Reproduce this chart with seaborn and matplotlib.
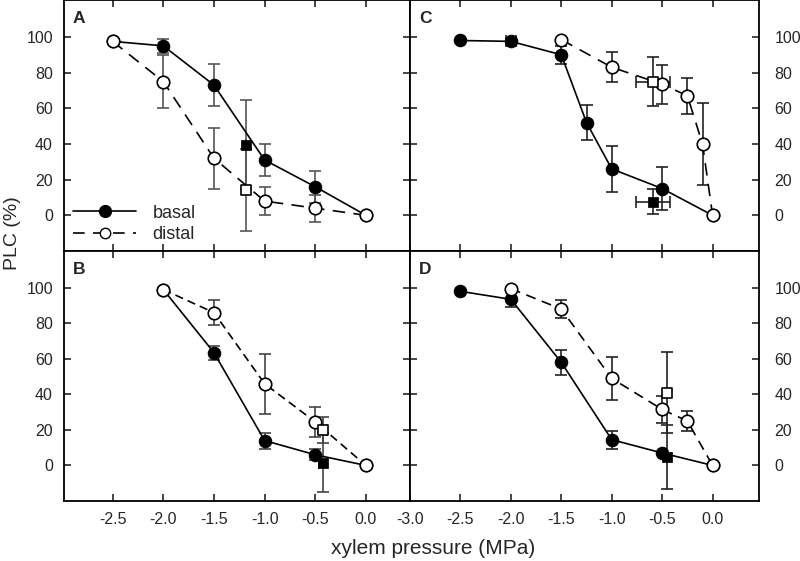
import matplotlib
matplotlib.use('Agg')
import matplotlib.pyplot as plt
from matplotlib.lines import Line2D
import seaborn as sns
import numpy as np
import pandas as pd

# 데이터
# panel A
a_basal_x = [-2.5, -2.0, -1.5, -1.0, -0.5, 0.0]
a_basal_y = [97.5, 95, 73, 31, 16, 0]
a_basal_err = [0, 4, 12, 9, 9, 0]
a_distal_x = [-2.5, -2.0, -1.5, -1.0, -0.5, 0.0]
a_distal_y = [97.5, 75, 32, 8, 4, 0]
a_distal_err = [0, 15, 17, 8, 7.5, 0]
a_sq_x = [-1.18]
a_sq_basal_y = [39.5]
a_sq_basal_err = [25]
a_sq_distal_y = [14]
a_sq_distal_err = [23]
a_sq_xerr = [0]

# panel B
b_basal_x = [-2.0, -1.5, -1.0, -0.5, 0.0]
b_basal_y = [99, 63.5, 14, 6, 0]
b_basal_err = [0, 4, 4.5, 3, 0]
b_distal_x = [-2.0, -1.5, -1.0, -0.5, 0.0]
b_distal_y = [99, 86, 46, 24.5, 0]
b_distal_err = [0, 7, 17, 8.5, 0]
b_sq_x = [-0.42]
b_sq_basal_y = [1.5]
b_sq_basal_err = [16.5]
b_sq_distal_y = [20]
b_sq_distal_err = [7.5]
b_sq_xerr = [0.04]

# panel C
c_basal_x = [-2.5, -2.0, -1.5, -1.25, -1.0, -0.5, 0.0]
c_basal_y = [98, 97.5, 90, 52, 26, 15, 0]
c_basal_err = [0, 1.5, 5, 10, 13, 12, 0]
c_basal_xerr = [0, 0.05, 0, 0, 0, 0, 0]
c_distal_x = [-1.5, -1.0, -0.5, -0.25, -0.1, 0.0]
c_distal_y = [98.5, 83, 73.5, 67, 40, 0]
c_distal_err = [0, 8.5, 11, 10, 23, 0]
c_sq_x = [-0.59]
c_sq_basal_y = [7.5]
c_sq_basal_err = [7]
c_sq_distal_y = [75]
c_sq_distal_err = [13.5]
c_sq_xerr = [0.165]

# panel D
d_basal_x = [-2.5, -2.0, -1.5, -1.0, -0.5, 0.0]
d_basal_y = [98, 93.5, 58, 14.5, 7, 0]
d_basal_err = [0, 4.5, 7, 5, 0, 0]
d_distal_x = [-2.0, -1.5, -1.0, -0.5, -0.25, 0.0]
d_distal_y = [99.5, 88, 49, 31.5, 25, 0]
d_distal_err = [0, 5, 12, 7.5, 5.5, 0]
d_sq_x = [-0.45]
d_sq_basal_y = [4.7]
d_sq_basal_err = [18]
d_sq_distal_y = [41]
d_sq_distal_err = [23]
d_sq_xerr = [0]

sns.set_style('ticks')
plt.rcParams['font.family'] = ['Liberation Sans', 'DejaVu Sans']

fig = plt.figure(figsize=(8, 5.61), dpi=100)
ax_a = fig.add_axes([0.08, 0.5526, 0.4325, 0.4474])
ax_b = fig.add_axes([0.08, 0.107, 0.4325, 0.4456])
ax_c = fig.add_axes([0.5125, 0.5526, 0.43625, 0.4474])
ax_d = fig.add_axes([0.5125, 0.107, 0.43625, 0.4456])


def draw_panel(ax, bx, by, be, dx, dy, de, sqx, sqby, sqbe, sqdy, sqde, sqxe,
               dash, bxe=None, ecolor='#222222'):
    # 오차 막대
    ax.errorbar(bx, by, yerr=be, xerr=bxe, fmt='none', ecolor=ecolor,
                elinewidth=1.2, capsize=4, capthick=1.2, zorder=2)
    ax.errorbar(dx, dy, yerr=de, fmt='none', ecolor=ecolor,
                elinewidth=1.2, capsize=4, capthick=1.2, zorder=2)
    ax.errorbar(sqx, sqby, yerr=sqbe, xerr=sqxe, fmt='none', ecolor=ecolor,
                elinewidth=1.2, capsize=4, capthick=1.2, zorder=2)
    ax.errorbar(sqx, sqdy, yerr=sqde, xerr=sqxe, fmt='none', ecolor=ecolor,
                elinewidth=1.2, capsize=4, capthick=1.2, zorder=2)
    # basal: 실선 + 채운 원
    sns.lineplot(x=bx, y=by, ax=ax, color='black', linewidth=1.2,
                 marker='o', markersize=9, markerfacecolor='black',
                 markeredgecolor='black', zorder=3)
    # distal: 점선 + 빈 원
    sns.lineplot(x=dx, y=dy, ax=ax, color='black', linewidth=1.2,
                 linestyle=(0, dash), marker='o', markersize=9,
                 markerfacecolor='white', markeredgecolor='black',
                 markeredgewidth=1.2, zorder=4)
    # 사각형 점
    sns.scatterplot(x=sqx, y=sqby, ax=ax, marker='s', s=42, color='black',
                    edgecolor='black', zorder=5)
    sns.scatterplot(x=sqx, y=sqdy, ax=ax, marker='s', s=42, color='white',
                    edgecolor='black', linewidth=1.2, zorder=5)


draw_panel(ax_a, a_basal_x, a_basal_y, a_basal_err, a_distal_x, a_distal_y,
           a_distal_err, a_sq_x, a_sq_basal_y, a_sq_basal_err, a_sq_distal_y,
           a_sq_distal_err, a_sq_xerr, (7.5, 5), ecolor='#555555')
draw_panel(ax_b, b_basal_x, b_basal_y, b_basal_err, b_distal_x, b_distal_y,
           b_distal_err, b_sq_x, b_sq_basal_y, b_sq_basal_err, b_sq_distal_y,
           b_sq_distal_err, b_sq_xerr, (5, 3), ecolor='#444444')
draw_panel(ax_c, c_basal_x, c_basal_y, c_basal_err, c_distal_x, c_distal_y,
           c_distal_err, c_sq_x, c_sq_basal_y, c_sq_basal_err, c_sq_distal_y,
           c_sq_distal_err, c_sq_xerr, (7.5, 5), bxe=c_basal_xerr)
draw_panel(ax_d, d_basal_x, d_basal_y, d_basal_err, d_distal_x, d_distal_y,
           d_distal_err, d_sq_x, d_sq_basal_y, d_sq_basal_err, d_sq_distal_y,
           d_sq_distal_err, d_sq_xerr, (6, 4))

x_ticks_left = [-2.5, -2.0, -1.5, -1.0, -0.5, 0.0]
x_ticks_right = [-3.0, -2.5, -2.0, -1.5, -1.0, -0.5, 0.0]
y_ticks = [0, 20, 40, 60, 80, 100]

for ax, letter in zip([ax_a, ax_b, ax_c, ax_d], ['A', 'B', 'C', 'D']):
    ax.set_ylim(-20, 120.7)
    ax.set_yticks(y_ticks)
    ax.tick_params(direction='in', length=5, width=1.2, top=True, right=True,
                   bottom=True, left=True, labelsize=11.5)
    ax.tick_params(axis='x', pad=8)
    ax.tick_params(axis='y', pad=8)
    for sp in ax.spines.values():
        sp.set_linewidth(1.3)
        sp.set_color('black')
    ax.set_xlabel('')
    ax.set_ylabel('')
    ax.text(0.026, 0.955, letter, transform=ax.transAxes, fontsize=12.5,
            fontweight='bold', ha='left', va='top')

ax_a.set_xlim(-2.98, 0.435)
ax_b.set_xlim(-2.98, 0.435)
ax_c.set_xlim(-3.0, 0.46)
ax_d.set_xlim(-3.0, 0.46)
ax_a.set_xticks(x_ticks_left)
ax_b.set_xticks(x_ticks_left)
ax_c.set_xticks(x_ticks_right)
ax_d.set_xticks(x_ticks_right)
ax_b.set_xticklabels([f'{v:.1f}' for v in x_ticks_left])
ax_d.set_xticklabels([f'{v:.1f}' for v in x_ticks_right])

for ax in [ax_a, ax_c]:
    ax.tick_params(labelbottom=False)
for ax in [ax_c, ax_d]:
    ax.tick_params(labelleft=False, labelright=True)
    ax.tick_params(axis='y', pad=11)

# 범례
handles = [
    Line2D([], [], color='black', linewidth=1.2, marker='o', markersize=8.5,
           markerfacecolor='black', markeredgecolor='black'),
    Line2D([], [], color='black', linewidth=1.2, linestyle=(0, (7, 5)),
           marker='o', markersize=7.5, markerfacecolor='white',
           markeredgecolor='black'),
]
ax_a.legend(handles, ['basal', 'distal'], loc='lower left',
            bbox_to_anchor=(0.006, 0.002), borderaxespad=0, frameon=False,
            fontsize=13, handlelength=3.5, handletextpad=0.9,
            labelspacing=0.25)

fig.text(0.016, 0.584, 'PLC (%)', rotation=90, va='center', ha='center',
         fontsize=14)
fig.text(0.542, 0.0214, 'xylem pressure (MPa)', va='center', ha='center',
         fontsize=15)

fig.savefig('out.png', dpi=100)
